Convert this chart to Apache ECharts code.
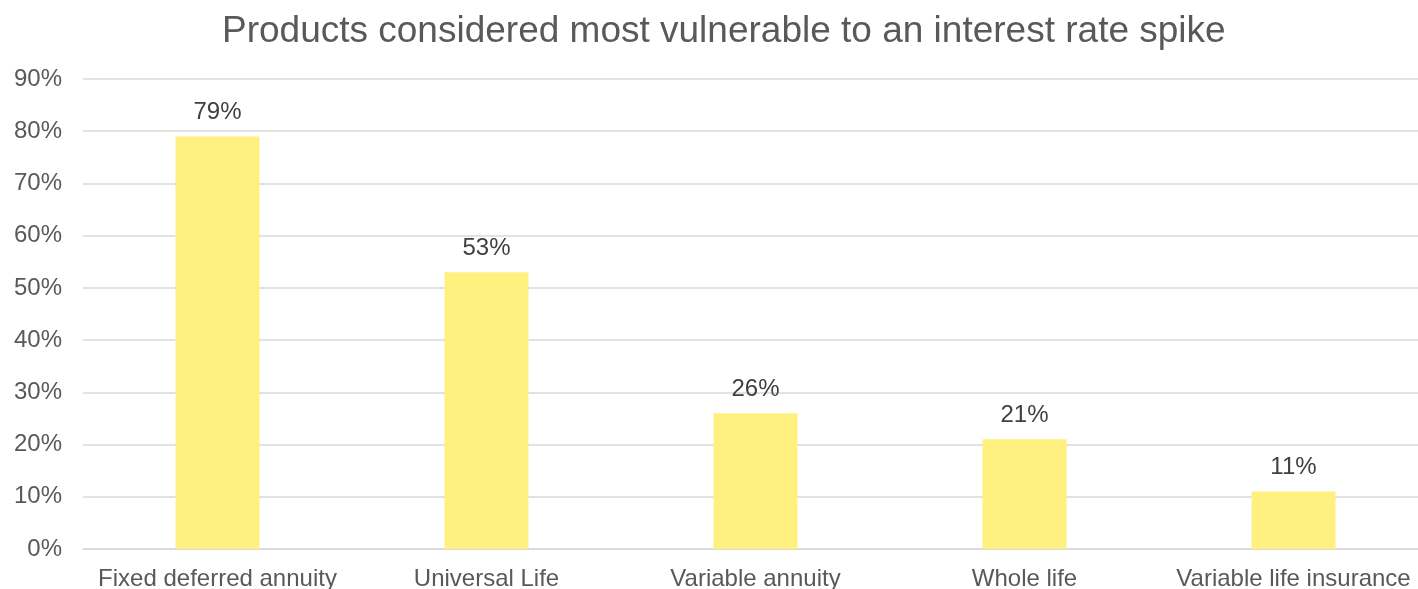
<!DOCTYPE html>
<html>
<head>
<meta charset="utf-8">
<style>
  html, body { margin: 0; padding: 0; background: #ffffff; }
  #chart { width: 1418px; height: 589px; }
</style>
<script src="https://cdn.jsdelivr.net/npm/echarts@6/dist/echarts.min.js"></script>
</head>
<body>
<div id="chart"></div>
<script>
// Survey results: share of respondents naming each product
const categories = [
  'Fixed deferred annuity',
  'Universal Life',
  'Variable annuity',
  'Whole life',
  'Variable life insurance'
];
const shares = [79, 53, 26, 21, 11];
const yTicks = [0, 10, 20, 30, 40, 50, 60, 70, 80, 90];

const FONT = '"Liberation Sans", Arial, sans-serif';

const chart = echarts.init(document.getElementById('chart'), null, { renderer: 'canvas' });

chart.setOption({
  backgroundColor: '#ffffff',
  animation: false,
  title: {
    text: 'Products considered most vulnerable to an interest rate spike',
    left: 222,
    top: 13,
    padding: 0,
    textStyle: {
      fontFamily: FONT,
      fontSize: 37,
      fontWeight: 'normal',
      color: '#595959'
    }
  },
  grid: {
    left: 83,
    top: 79,
    bottom: 40,
    right: -10,
    containLabel: false,
    outerBoundsMode: 'none'
  },
  xAxis: {
    type: 'category',
    data: categories,
    axisTick: { show: false },
    axisLine: { show: true, lineStyle: { color: '#D9D9D9', width: 1.5 } },
    axisLabel: {
      interval: 0,
      margin: 18,
      fontFamily: FONT,
      fontSize: 24,
      color: '#595959'
    }
  },
  yAxis: {
    type: 'value',
    min: yTicks[0],
    max: yTicks[yTicks.length - 1],
    interval: 10,
    axisLine: { show: false },
    axisTick: { show: false },
    splitLine: { lineStyle: { color: '#D9D9D9', width: 1.5 } },
    axisLabel: {
      margin: 21,
      fontFamily: FONT,
      fontSize: 24,
      color: '#595959',
      formatter: v => v + '%'
    }
  },
  series: [{
    type: 'bar',
    data: shares,
    barWidth: 84,
    itemStyle: { color: '#FFF080' },
    label: {
      show: true,
      position: 'top',
      distance: 12,
      fontFamily: FONT,
      fontSize: 24,
      color: '#404040',
      formatter: p => p.value + '%'
    }
  }]
});
</script>
</body>
</html>
